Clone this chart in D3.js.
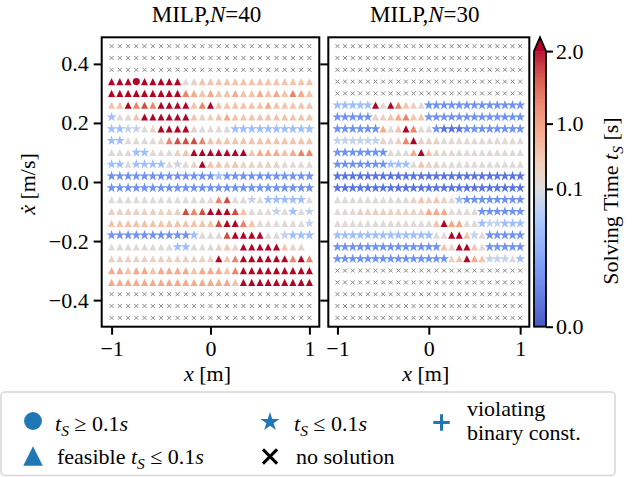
<!DOCTYPE html>
<html>
<head>
<meta charset="utf-8">
<script src="https://cdn.jsdelivr.net/npm/d3@7"></script>
<style>
  body { margin: 0; background: #fff; }
  #chart, #chart text { font-family: "Liberation Serif", "Times New Roman", Times, serif !important; }
  #chart text { fill: #000; }
</style>
</head>
<body>
<svg id="chart" width="644" height="477" style="font-family: 'Liberation Serif', serif"></svg>
<script>
// grid of initial states (position x, velocity xdot)
const xVals = [-1, -0.917, -0.833, -0.75, -0.667, -0.583, -0.5, -0.417, -0.333, -0.25, -0.167, -0.083,
  0, 0.083, 0.167, 0.25, 0.333, 0.417, 0.5, 0.583, 0.667, 0.75, 0.833, 0.917, 1];
const vVals = [0.46, 0.42, 0.38, 0.34, 0.30, 0.26, 0.22, 0.18, 0.14, 0.10, 0.06, 0.02,
  -0.02, -0.06, -0.10, -0.14, -0.18, -0.22, -0.26, -0.30, -0.34, -0.38, -0.42, -0.46];

// cell codes -> solving time [s]
// x = no solution, A-D = star (t <= 0.1), a-g = feasible triangle, O = circle, . = empty
const starCodes = ["A", "B", "C", "D"];
const starTimes = [0.022, 0.04, 0.072, 0.09];
const triCodes = ["a", "b", "c", "d", "e", "f", "g"];
const triTimes = [0.14, 0.32, 0.55, 0.85, 1.25, 1.65, 2.5];
const circleTimes = [2.5];

// one string per row (top row = vVals[0]), one char per column
const rowsN40 = [
  "xxxxxxxxxxxxxxxxxxxxxxxxx",
  "xxxxxxxxxxxxxxxxxxxxxxxxx",
  "xxxxxxxxxxxxxxxxxxxxxxxxx",
  "gggOgggggabcccccccccccccc",
  "gggggggggedcdccdccdcdcedc",
  "ccgefeggggcegccccccdccccc",
  "Caacggggggcbbcdcccccccccc",
  "CCDDabggggbaaaaCCCCCCCCCC",
  "CCaaaabefffeccccccccccccc",
  "aaaCCaaabcgggggggcdddcdee",
  "CCaCCCCaDabgccbcbbbbbaaaa",
  "BBBBBBBBBBBBBCBBBBBBBBBBB",
  "BBBBBBBBBBBBBBBBBBBBBBBBB",
  "aaaaaaaaaaaaaefaaDaCCCCCa",
  "bbbbbbbbbfefgggfcaaaDaCaD",
  "cccccccccccccfggecaaaaaaD",
  "BBBBBBBBBBCaaafggggaaDCCC",
  "aaaaaaaaCCaaabcbgggggcbb.",
  "bbbbbbbbbbbbbgceggggggege",
  "ddcddcddddcdddceggggggggg",
  "dddddddddddddddcggggggggg",
  "xxxxxxxxxxxxxxxxxxxxxxxxx",
  "xxxxxxxxxxxxxxxxxxxxxxxxx",
  "xxxxxxxxxxxxxxxxxxxxxxxxx"
];
const rowsN30 = [
  "xxxxxxxxxxxxxxxxxxxxxxxxx",
  "xxxxxxxxxxxxxxxxxxxxxxxxx",
  "xxxxxxxxxxxxxxxxxxxxxxxxx",
  "xxxxxxxxxxxxxxxxxxxxxxxxx",
  "xxxxxxxxxxxxxxxxxxxxxxxxx",
  "CCCCCgagecbaBBBBBBBBBBBBB",
  "BBBBBbbcdeccBBBBBBBBBBBBB",
  "BBBBBBdacgeaaBAAABBBBBBBB",
  "DDDDDDbabegbbbaaaaaaaaaaa",
  "BBBBBBBaaadgcbaaaaaaaaaaa",
  "BBBBBBBCCCacbbaaaaaaaaaaa",
  "AAAAAAAAAAAAAAAAAAAAAAAAA",
  "AAAAAAAAAAAAAAAAAAAAAAAAA",
  "aaaaaaaaaabcbcbaCBBBBBBBB",
  "aaabbbbbbbbbdddaaaaBBBBBB",
  "aaaaaaaaaaaaacgddaaCDDCCC",
  "CCCCCCCCCCCCCaaggcDaBBBBB",
  "BBBBBBBBBBBBBBcbggcaBBBBB",
  "BBBBBBBBBBBBBBBbcgdcDDDaC",
  "xxxxxxxxxxxxxxxxxxxxxxxxx",
  "xxxxxxxxxxxxxxxxxxxxxxxxx",
  "xxxxxxxxxxxxxxxxxxxxxxxxx",
  "xxxxxxxxxxxxxxxxxxxxxxxxx",
  "xxxxxxxxxxxxxxxxxxxxxxxxx"
];

const panelTitles = ["40", "30"];
const xTicks = [-1, 0, 1];
const yTicks = [-0.4, -0.2, 0, 0.2, 0.4];
const cbarTicks = [0, 0.1, 1, 2];

// coolwarm colormap samples at 0, 0.1, ... 1
const coolwarm = ["#3b4cc0", "#5572df", "#6f92f3", "#8db0fe", "#aac7fd", "#dddcdc",
  "#f2c9b4", "#f7a889", "#ee8468", "#d65244", "#b40426"];

const svg = d3.select("#chart");
const FS = 22;
const SERIF = "'Liberation Serif', 'Times New Roman', serif";

// two slope norm: vmin 0, vcenter 0.1, vmax 2
const norm = d3.scaleLinear().domain([0, 0.1, 2]).range([0, 0.5, 1]).clamp(true);
const cmap = d3.scaleLinear().domain(d3.range(11).map(d => d / 10)).range(coolwarm);
const color = t => cmap(norm(t));

// matplotlib-like markers
const triSym = { draw(ctx, size) { const h = Math.sqrt(size) / 2;
  ctx.moveTo(0, -h); ctx.lineTo(h, h); ctx.lineTo(-h, h); ctx.closePath(); } };
const timesSym = { draw(ctx, size) { const h = Math.sqrt(size) / 2;
  ctx.moveTo(-h, -h); ctx.lineTo(h, h); ctx.moveTo(h, -h); ctx.lineTo(-h, h); } };
const plusSym = { draw(ctx, size) { const h = Math.sqrt(size) / 2;
  ctx.moveTo(-h, 0); ctx.lineTo(h, 0); ctx.moveTo(0, -h); ctx.lineTo(0, h); } };

function decode(ch) {
  if (ch === "x") return { kind: "x" };
  if (ch === "O") return { kind: "o", t: circleTimes[0] };
  let i = starCodes.indexOf(ch);
  if (i >= 0) return { kind: "star", t: starTimes[i] };
  i = triCodes.indexOf(ch);
  if (i >= 0) return { kind: "tri", t: triTimes[i] };
  return null;
}

// text with math parts: {s, i (italic), sub}
function mathText(el, parts, fs) {
  el.style("font-family", SERIF);
  let shift = 0;
  parts.forEach(p => {
    const t = el.append("tspan").text(p.s);
    if (p.i) t.style("font-style", "italic");
    if (p.sub) {
      t.attr("font-size", fs * 0.7).attr("dy", fs * 0.22);
      shift = fs * 0.22;
    } else if (shift) {
      t.attr("dy", -shift);
      shift = 0;
    }
  });
}

const panelX = [[101.7, 319.3], [328.3, 529.3]];
const plotTop = 37.3, plotBottom = 326.7;
const y = d3.scaleLinear().domain([-0.49, 0.49]).range([plotBottom, plotTop]);

[rowsN40, rowsN30].forEach((rows, p) => {
  const x = d3.scaleLinear().domain([-1.1, 1.1]).range(panelX[p]);
  const g = svg.append("g");

  const cells = [];
  rows.forEach((r, ri) => {
    r.split("").forEach((ch, ci) => {
      const c = decode(ch);
      if (c) cells.push({ ...c, x: xVals[ci], v: vVals[ri] });
    });
  });

  g.selectAll("path.cell")
    .data(cells)
    .enter()
    .append("path")
    .attr("class", "cell")
    .attr("transform", d => `translate(${x(d.x)},${y(d.v)})`)
    .attr("d", d => {
      if (d.kind === "x") return d3.symbol(timesSym, 16)();
      if (d.kind === "star") return d3.symbol(d3.symbolStar, 32)();
      if (d.kind === "o") return d3.symbol(d3.symbolCircle, 40)();
      return d3.symbol(triSym, 50)();
    })
    .attr("fill", d => d.kind === "x" ? "none" : color(d.t))
    .attr("stroke", d => d.kind === "x" ? "#888" : "none")
    .attr("stroke-width", 1);

  // frame
  g.append("rect")
    .attr("x", panelX[p][0]).attr("y", plotTop)
    .attr("width", panelX[p][1] - panelX[p][0]).attr("height", plotBottom - plotTop)
    .attr("fill", "none").attr("stroke", "#000").attr("stroke-width", 2);

  // axes
  const xAxis = g.append("g")
    .attr("transform", `translate(0,${plotBottom})`)
    .call(d3.axisBottom(x).tickValues(xTicks).tickFormat(d3.format("d")).tickSize(8).tickPadding(6));
  const yAxis = g.append("g")
    .attr("transform", `translate(${panelX[p][0]},0)`)
    .call(d3.axisLeft(y).tickValues(yTicks).tickFormat(d3.format(".1f")).tickSize(8).tickPadding(5));
  if (p === 1) yAxis.selectAll("text").remove();
  [xAxis, yAxis].forEach(a => {
    a.attr("font-family", SERIF);
    a.select(".domain").remove();
    a.selectAll("line").attr("stroke-width", 2);
    a.selectAll("text").attr("font-size", FS).style("font-family", SERIF);
  });

  // title
  const cx = (panelX[p][0] + panelX[p][1]) / 2 - 4;
  mathText(svg.append("text").attr("x", cx).attr("y", 22).attr("text-anchor", "middle").attr("font-size", 23),
    [{ s: "MILP," }, { s: "N", i: true }, { s: "=" + panelTitles[p] }], 23);

  // x label
  mathText(svg.append("text").attr("x", cx + 1).attr("y", 381).attr("text-anchor", "middle").attr("font-size", FS),
    [{ s: "x", i: true }, { s: " [m]" }], FS);
});

// y label
mathText(svg.append("text")
  .attr("transform", "translate(35,184) rotate(-90)")
  .attr("text-anchor", "middle").attr("font-size", FS),
  [{ s: "x\u0307", i: true }, { s: " [m/s]" }], FS);

// colorbar
const cbX = 534, cbW = 12, cbTop = 51.1, cbTip = 37.3;
const cb = d3.scaleLinear().domain([0, 0.1, 2]).range([plotBottom, 188.9, cbTop]);
const cbg = svg.append("g");
cbg.selectAll("rect.cb")
  .data(d3.range(cbTop, plotBottom, 1))
  .enter()
  .append("rect")
  .attr("class", "cb")
  .attr("x", cbX).attr("y", d => d).attr("width", cbW).attr("height", 1.2)
  .attr("fill", d => color(cb.invert(d + 0.5)));
cbg.append("path")
  .attr("d", `M${cbX},${cbTop}L${cbX + cbW / 2},${cbTip}L${cbX + cbW},${cbTop}Z`)
  .attr("fill", color(2.5));
cbg.append("path")
  .attr("d", `M${cbX},${plotBottom}L${cbX},${cbTop}L${cbX + cbW / 2},${cbTip}L${cbX + cbW},${cbTop}L${cbX + cbW},${plotBottom}Z`)
  .attr("fill", "none").attr("stroke", "#000").attr("stroke-width", 1.8);
const cbAxis = cbg.append("g")
  .attr("transform", `translate(${cbX + cbW},0)`)
  .call(d3.axisRight(cb).tickValues(cbarTicks).tickFormat(d3.format(".1f")).tickSize(7).tickPadding(3));
cbAxis.attr("font-family", SERIF);
cbAxis.select(".domain").remove();
cbAxis.selectAll("line").attr("stroke-width", 2);
cbAxis.selectAll("text").attr("font-size", FS).style("font-family", SERIF);

mathText(svg.append("text")
  .attr("transform", "translate(618,201) rotate(-90)")
  .attr("text-anchor", "middle").attr("font-size", FS),
  [{ s: "Solving Time " }, { s: "t", i: true }, { s: "S", i: true, sub: true }, { s: " [s]" }], FS);

// legend
const C0 = "#1f77b4";
const lg = svg.append("g");
lg.append("rect")
  .attr("x", 1).attr("y", 392).attr("width", 614).attr("height", 83.5).attr("rx", 4)
  .attr("fill", "#fff").attr("stroke", "#d5d5d5").attr("stroke-width", 1.5);

const legendItems = [
  { sym: d3.symbolCircle, size: 250, fill: C0, x: 33, y: 421, tx: 55, ty: 431,
    parts: [{ s: "t", i: true }, { s: "S", i: true, sub: true }, { s: " ≥ 0.1" }, { s: "s", i: true }] },
  { sym: triSym, size: 380, fill: C0, x: 33, y: 456, tx: 57, ty: 464,
    parts: [{ s: "feasible " }, { s: "t", i: true }, { s: "S", i: true, sub: true }, { s: " ≤ 0.1" }, { s: "s", i: true }] },
  { sym: d3.symbolStar, size: 110, fill: C0, x: 270, y: 422, tx: 294, ty: 431,
    parts: [{ s: "t", i: true }, { s: "S", i: true, sub: true }, { s: " ≤ 0.1" }, { s: "s", i: true }] },
  { sym: timesSym, size: 200, stroke: "#000", x: 270, y: 456.5, tx: 296, ty: 464,
    parts: [{ s: "no solution" }] },
  { sym: plusSym, size: 270, stroke: C0, x: 441.5, y: 422.5, tx: 467, ty: 416,
    parts: [{ s: "violating" }] }
];
legendItems.forEach(d => {
  lg.append("path")
    .attr("transform", `translate(${d.x},${d.y})`)
    .attr("d", d3.symbol(d.sym, d.size)())
    .attr("fill", d.fill || "none")
    .attr("stroke", d.stroke || "none")
    .attr("stroke-width", 3);
  mathText(lg.append("text").attr("x", d.tx).attr("y", d.ty).attr("font-size", FS), d.parts, FS);
});
mathText(lg.append("text").attr("x", 467).attr("y", 440).attr("font-size", FS), [{ s: "binary const." }], FS);
</script>
</body>
</html>
